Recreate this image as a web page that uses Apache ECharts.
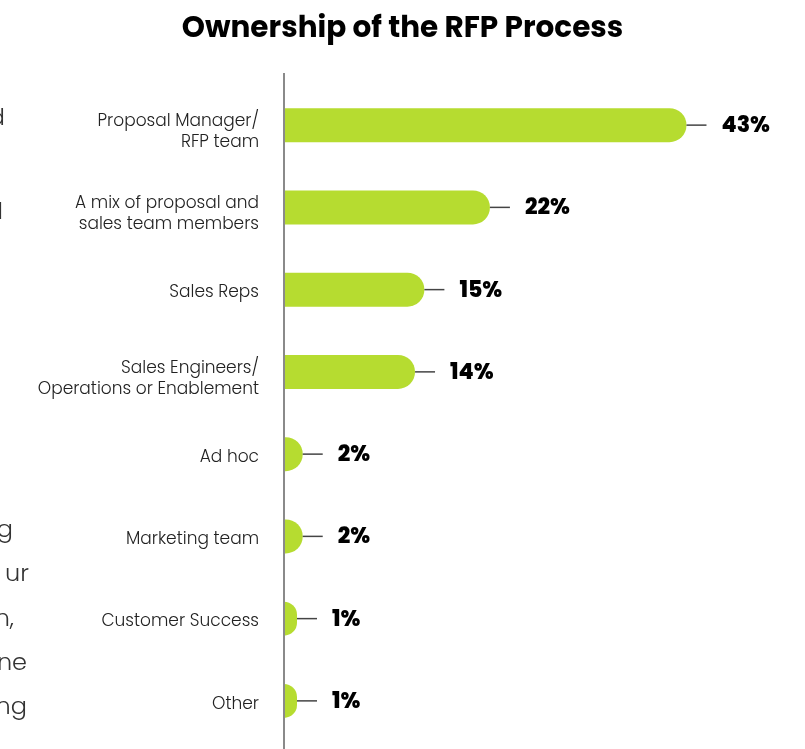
<!DOCTYPE html>
<html>
<head>
<meta charset="utf-8">
<script src="https://cdn.jsdelivr.net/npm/echarts@6/dist/echarts.min.js"></script>
<style>
  html, body { margin: 0; padding: 0; background: #fff; }
  #chart { width: 805px; height: 749px; }
</style>
</head>
<body>
<div id="chart"></div>
<script>
// owners of the rfp process, top to bottom
const categories = [
  'Proposal Manager/\nRFP team',
  'A mix of proposal and\nsales team members',
  'Sales Reps',
  'Sales Engineers/\nOperations or Enablement',
  'Ad hoc',
  'Marketing team',
  'Customer Success',
  'Other'
]
const shares = [43, 22, 15, 14, 2, 2, 1, 1]

// clipped paragraph text on the left edge of the page
const sideText = [
  { t: 'd', x: 5, y: 119 },
  { t: 'l', x: 3, y: 213 },
  { t: 'g', x: 13, y: 531 },
  { t: 'ur', x: 29, y: 575 },
  { t: 'n,', x: 14, y: 620 },
  { t: 'ne', x: 27, y: 664 },
  { t: 'ng', x: 27, y: 708 }
]

const font = 'Poppins, Inter, "Open Sans", sans-serif'
const chart = echarts.init(document.getElementById('chart'))

chart.setOption({
  animation: false,
  textStyle: { fontFamily: font },
  title: {
    text: 'Ownership of the RFP Process',
    left: 'center',
    top: 10,
    textStyle: { fontSize: 29.5, fontWeight: 'bold', color: '#000', fontFamily: font }
  },
  grid: { left: 284, right: 53, top: 84, bottom: 7 },
  xAxis: {
    type: 'value',
    min: 0,
    max: 50,
    show: false
  },
  yAxis: {
    type: 'category',
    inverse: true,
    data: categories,
    axisLine: { show: false },
    axisTick: { show: false },
    axisLabel: {
      margin: 25,
      fontSize: 17,
      fontWeight: 300,
      lineHeight: 21,
      color: '#222',
      fontFamily: font,
      // push labels down a bit; two-line ones sit lower than the bar centre
      formatter: function (v) {
        const lines = v.split('\n')
        if (lines.length > 1) return '{two|' + lines[0] + '}\n{two|' + lines[1] + '}'
        return '{one|' + v + '}'
      },
      rich: {
        two: { lineHeight: 21, padding: [14, 0, 0, 0] },
        one: { lineHeight: 21, padding: [7, 0, 0, 0] }
      }
    }
  },
  graphic: [
    {
      type: 'line',
      shape: { x1: 284, y1: 73, x2: 284, y2: 749 },
      style: { stroke: '#8a8a8a', lineWidth: 2 },
      z: 10
    }
  ].concat(sideText.map(function (s) {
    return {
      type: 'text',
      x: s.x,
      y: s.y,
      style: {
        text: s.t,
        align: 'right',
        verticalAlign: 'middle',
        fontSize: 24,
        fontWeight: 300,
        fontFamily: font,
        fill: '#333'
      }
    }
  })),
  series: [{
    type: 'bar',
    data: shares,
    barWidth: 34,
    barMinHeight: 13,
    itemStyle: {
      color: '#b6dc30',
      borderRadius: [0, 17, 17, 0]
    },
    label: {
      show: true,
      position: 'right',
      distance: 0,
      formatter: function (p) {
        return '{line|}{val|' + p.value + '%}'
      },
      rich: {
        line: { width: 20, height: 1.5, backgroundColor: '#444' },
        val: {
          fontSize: 22,
          fontWeight: 800,
          color: '#000',
          fontFamily: font,
          padding: [3, 0, 0, 15]
        }
      }
    }
  }]
})
</script>
</body>
</html>
